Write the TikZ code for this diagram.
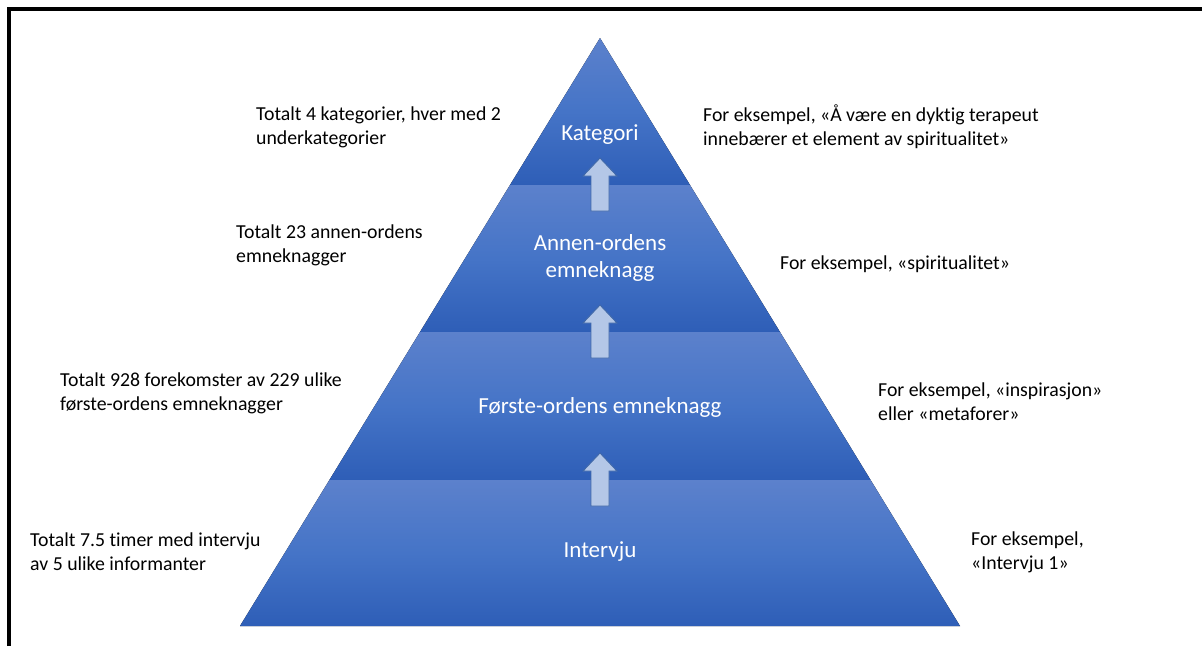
\documentclass[tikz,border=0pt]{standalone}
\usepackage{fontspec}
\setmainfont{Carlito}[Ligatures=NoCommon]
\usepackage{xcolor}
\usepackage{tikz}
\usetikzlibrary{positioning}

\definecolor{bandtop}{HTML}{5C81CC}
\definecolor{bandmid}{HTML}{4574C7}
\definecolor{bandbot}{HTML}{2E5EB7}
\definecolor{arrowfill}{HTML}{B4C7E7}
\definecolor{arrowline}{HTML}{4068A8}

\begin{document}
\begin{tikzpicture}[x=1pt,y=-1pt,
    band/.style={top color=bandtop,bottom color=bandbot,middle color=bandmid},
    side/.style={font=\fontsize{19.8}{24}\selectfont,align=left,inner sep=0pt,anchor=west},
    tier/.style={font=\fontsize{23}{27}\selectfont,text=white,align=center,inner sep=0pt},
    uparrow/.pic={\draw[fill=arrowfill,draw=arrowline,line width=0.9pt]
        (-9,26) -- (-9,-9) -- (-17,-9) -- (0,-27) -- (17,-9) -- (9,-9) -- (9,26) -- cycle;}]
    \useasboundingbox (0,0) rectangle (1202,646);
    % frame
    \draw[line width=4pt] (9,646) -- (9,9) -- (1202,9);
    % pyramid
    \coordinate (apex) at (600,38);
    \coordinate (l1) at (510,185);   \coordinate (r1) at (690,185);
    \coordinate (l2) at (420,332);   \coordinate (r2) at (780,332);
    \coordinate (l3) at (329.4,480); \coordinate (r3) at (870.6,480);
    \coordinate (l4) at (240,626);   \coordinate (r4) at (960,626);
    \fill[band] (apex) -- (r1) -- (l1) -- cycle;
    \fill[band] (l1) -- (r1) -- (r2) -- (l2) -- cycle;
    \fill[band] (l2) -- (r2) -- (r3) -- (l3) -- cycle;
    \fill[band] (l3) -- (r3) -- (r4) -- (l4) -- cycle;
    % tier labels
    \node[tier] (kategori) at (600,135) {Kategori};
    \node[tier] (annen) at (600,258) {Annen-ordens\\emneknagg};
    \node[tier] (forste) at (600,407) {Første-ordens emneknagg};
    \node[tier] (intervju) at (600,552) {Intervju};
    % arrows between tiers
    \pic at (600,185) {uparrow};
    \pic at (600,332) {uparrow};
    \pic at (600,480) {uparrow};
    % left notes
    \node[side] (kat-n) at (256,127) {Totalt 4 kategorier, hver med 2\\underkategorier};
    \node[side] (ann-n) at (236,245) {Totalt 23 annen-ordens\\emneknagger};
    \node[side] (for-n) at (60,393) {Totalt 928 forekomster av 229 ulike\\første-ordens emneknagger};
    \node[side] (int-n) at (30,552) {Totalt 7.5 timer med intervju\\av 5 ulike informanter};
    % right examples
    \node[side] (kat-e) at (703,127) {For eksempel, «Å være en dyktig terapeut\\innebærer et element av spiritualitet»};
    \node[side] (ann-e) at (780,264) {For eksempel, «spiritualitet»};
    \node[side] (for-e) at (878,402) {For eksempel, «inspirasjon»\\eller «metaforer»};
    \node[side] (int-e) at (971,552) {For eksempel,\\«Intervju 1»};
\end{tikzpicture}
\end{document}
